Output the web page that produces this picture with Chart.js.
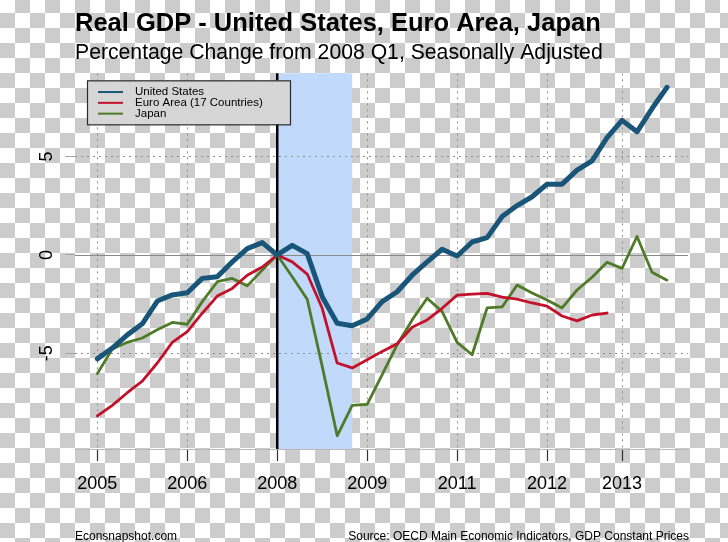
<!DOCTYPE html>
<html>
<head>
<meta charset="utf-8">
<title>Real GDP - United States, Euro Area, Japan</title>
<script src="https://cdn.jsdelivr.net/npm/chart.js@4.4.1/dist/chart.umd.min.js"></script>
<style>
  html, body { margin: 0; padding: 0; }
  body {
    width: 728px;
    height: 542px;
    overflow: hidden;
    background-color: #fff;
    background-image: repeating-conic-gradient(#cccccc 0 25%, #ffffff 0 50%);
    background-size: 30px 30px;
    background-position: 0 -2px;
  }
  canvas { display: block; }
</style>
</head>
<body>
<canvas id="gdpChart" width="728" height="542"></canvas>
<script>
// Quarter index 0 = 2005 Q1
const quarters = [];
for (let year = 2005; year <= 2014; year++) {
  for (let q = 1; q <= 4; q++) quarters.push(year + " Q" + q);
}

// % change from 2008 Q1
const usGdp = [
  -5.28, -4.73, -4.06, -3.5, -2.34, -2.03, -1.92, -1.19, -1.11, -0.35, 0.32, 0.63, 0,
  0.49, 0.07, -2.12, -3.47, -3.6, -3.25, -2.37, -1.87, -1.03, -0.35, 0.29, -0.05,
  0.66, 0.88, 1.95, 2.51, 2.96, 3.6, 3.6, 4.31, 4.78, 5.96, 6.84, 6.26, 7.44, 8.52
];
const euroGdp = [
  -8.18, -7.64, -7.0, -6.41, -5.49, -4.44, -3.89, -2.96, -2.09, -1.7, -1.03, -0.61, 0,
  -0.35, -0.97, -2.71, -5.49, -5.74, -5.32, -4.9, -4.51, -3.67, -3.3, -2.71, -2.04,
  -1.99, -1.95, -2.14, -2.24, -2.44, -2.6, -3.1, -3.35, -3.05, -2.95
];
const japanGdp = [
  -6.03, -4.78, -4.44, -4.22, -3.8, -3.43, -3.52, -2.37, -1.36, -1.19, -1.57, -0.77, 0,
  -1.11, -2.25, -5.66, -9.19, -7.64, -7.59, -6.08, -4.56, -3.3, -2.2, -2.88, -4.44, -5.07,
  -2.69, -2.64, -1.53, -1.93, -2.29, -2.69, -1.78, -1.13, -0.37, -0.68, 0.94, -0.88, -1.28
];

// Axis ticks
const tickQuarters = [0, 6, 12, 18, 24, 30, 35];
const tickLabels = ["2005", "2006", "2008", "2009", "2011", "2012", "2013"];
const yTicks = [-5, 0, 5];

// Base quarter (2008 Q1) and recession (2008 Q1 - 2009 Q2)
const baseQuarter = 12;
const recessionStart = 12;
const recessionEnd = 17;

const fontFamily = "'Liberation Sans', Arial, Helvetica, sans-serif";

function toPoints(values) {
  return values.map((v, i) => ({ x: i, y: v }));
}

// Recession shading, zero line and the 2008 Q1 marker
const backdropPlugin = {
  id: "backdrop",
  beforeDraw(chart) {
    const { ctx, chartArea, scales } = chart;
    const x0 = scales.x.getPixelForValue(recessionStart);
    const x1 = scales.x.getPixelForValue(recessionEnd);
    ctx.save();
    ctx.fillStyle = "#c1d9fb";
    ctx.fillRect(x0, chartArea.top, x1 - x0, chartArea.bottom - chartArea.top);
    ctx.restore();
  },
  beforeDatasetsDraw(chart) {
    const { ctx, chartArea, scales } = chart;
    ctx.save();
    // zero line
    const y0 = Math.round(scales.y.getPixelForValue(0)) + 0.5;
    ctx.strokeStyle = "#8a8a8a";
    ctx.lineWidth = 1;
    ctx.beginPath();
    ctx.moveTo(chartArea.left, y0);
    ctx.lineTo(chartArea.right, y0);
    ctx.stroke();
    // bottom line
    ctx.strokeStyle = "#b8b8b8";
    ctx.beginPath();
    ctx.moveTo(chartArea.left, chartArea.bottom + 0.5);
    ctx.lineTo(chartArea.right, chartArea.bottom + 0.5);
    ctx.stroke();
    // 2008 Q1
    const xb = scales.x.getPixelForValue(baseQuarter);
    ctx.strokeStyle = "#000";
    ctx.lineWidth = 2.5;
    ctx.beginPath();
    ctx.moveTo(xb, chartArea.top);
    ctx.lineTo(xb, chartArea.bottom);
    ctx.stroke();
    ctx.restore();
  }
};

// Rotated y labels, boxed legend and footer
const overlayPlugin = {
  id: "overlay",
  afterDraw(chart) {
    const { ctx, chartArea, scales } = chart;
    ctx.save();

    // y tick labels (rotated like the original)
    ctx.font = "18px " + fontFamily;
    ctx.fillStyle = "#000";
    ctx.textAlign = "center";
    ctx.textBaseline = "middle";
    yTicks.forEach((v) => {
      ctx.save();
      ctx.translate(47, scales.y.getPixelForValue(v));
      ctx.rotate(-Math.PI / 2);
      ctx.fillText(String(v), 0, 0);
      ctx.restore();
    });

    // legend box
    const boxX = chartArea.left + 12;
    const boxY = chartArea.top + 7;
    ctx.fillStyle = "#d6d6d6";
    ctx.fillRect(boxX, boxY, 203, 44);
    ctx.strokeStyle = "#2b2b2b";
    ctx.lineWidth = 1.2;
    ctx.strokeRect(boxX + 0.5, boxY + 0.5, 203, 44);
    ctx.font = "11.5px " + fontFamily;
    ctx.textAlign = "left";
    ctx.textBaseline = "middle";
    chart.data.datasets.forEach((ds, i) => {
      const y = boxY + 11.7 + i * 10.8;
      ctx.strokeStyle = ds.borderColor;
      ctx.lineWidth = 2;
      ctx.beginPath();
      ctx.moveTo(boxX + 11, y);
      ctx.lineTo(boxX + 36, y);
      ctx.stroke();
      ctx.fillStyle = "#000";
      ctx.fillText(ds.label, boxX + 48, y);
    });

    // footer
    ctx.font = "12px " + fontFamily;
    ctx.textBaseline = "alphabetic";
    ctx.fillStyle = "#000";
    ctx.textAlign = "left";
    ctx.fillText("Econsnapshot.com", chartArea.left, 540);
    ctx.textAlign = "right";
    ctx.fillText("Source: OECD Main Economic Indicators, GDP Constant Prices", chartArea.right + 1, 540);

    ctx.restore();
  }
};

const gridColor = "#8f8f8f";

new Chart(document.getElementById("gdpChart"), {
  type: "line",
  data: {
    datasets: [
      {
        label: "United States",
        data: toPoints(usGdp),
        borderColor: "#185578",
        borderWidth: 5
      },
      {
        label: "Euro Area (17 Countries)",
        data: toPoints(euroGdp),
        borderColor: "#c3112b",
        borderWidth: 2.8
      },
      {
        label: "Japan",
        data: toPoints(japanGdp),
        borderColor: "#4f7a28",
        borderWidth: 2.8
      }
    ]
  },
  options: {
    responsive: false,
    animation: false,
    devicePixelRatio: 1,
    elements: {
      point: { radius: 0 },
      line: { tension: 0, borderCapStyle: "round", borderJoinStyle: "round", fill: false }
    },
    layout: { padding: { top: 0, right: 40, bottom: 0, left: 0 } },
    plugins: {
      legend: { display: false },
      tooltip: { enabled: false },
      title: {
        display: true,
        text: "Real GDP - United States, Euro Area, Japan",
        align: "start",
        fullSize: false,
        color: "#000",
        font: { family: fontFamily, size: 25.5, weight: "bold" },
        padding: { top: 9, bottom: 0 }
      },
      subtitle: {
        display: true,
        text: "Percentage Change from 2008 Q1, Seasonally Adjusted",
        align: "start",
        fullSize: false,
        color: "#000",
        font: { family: fontFamily, size: 21.2 },
        padding: { top: 1, bottom: 7.3 }
      }
    },
    scales: {
      x: {
        type: "linear",
        min: -1.49,
        max: 39.4,
        afterBuildTicks: (scale) => {
          scale.ticks = tickQuarters.map((v) => ({ value: v }));
        },
        afterFit: (scale) => {
          scale.height = 93;
        },
        ticks: {
          autoSkip: false,
          maxRotation: 0,
          padding: 12,
          color: "#000",
          font: { family: fontFamily, size: 18 },
          callback: (value, index) => tickLabels[index]
        },
        grid: {
          color: (ctx) => (ctx.tick && ctx.tick.value === baseQuarter ? "rgba(0,0,0,0)" : gridColor),
          lineWidth: 1,
          tickLength: 12,
          tickColor: "#333",
          tickWidth: 1.2
        },
        border: { display: false, dash: [2, 4] }
      },
      y: {
        min: -9.86,
        max: 9.23,
        afterBuildTicks: (scale) => {
          scale.ticks = yTicks.map((v) => ({ value: v }));
        },
        afterFit: (scale) => {
          scale.width = 75;
        },
        ticks: { display: false },
        grid: {
          color: (ctx) => (ctx.tick && ctx.tick.value === 0 ? "rgba(0,0,0,0)" : gridColor),
          lineWidth: 1,
          tickLength: 10,
          tickColor: "#a8a8a8",
          tickWidth: 1
        },
        border: { display: false, dash: [2, 4] }
      }
    }
  },
  plugins: [backdropPlugin, overlayPlugin]
});
</script>
</body>
</html>
